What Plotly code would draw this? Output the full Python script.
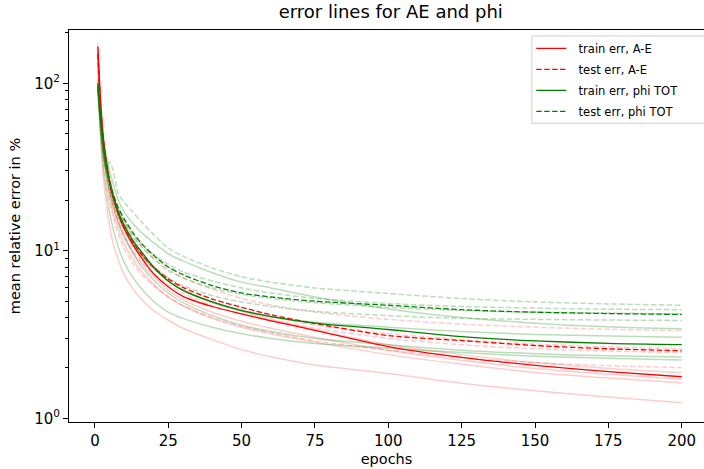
import plotly.graph_objects as go

EPOCHS = [1, 2, 3, 4, 5, 6, 8, 10, 13, 16, 20, 25, 30, 40, 50, 60, 75, 100, 125, 150, 175, 200]

# mean curves
TRAIN_AE_MEAN = [165, 75, 45, 33, 26, 21.5, 16.5, 13.5, 10.8, 9.0, 7.3, 6.1, 5.35, 4.65, 4.2, 3.82, 3.35, 2.68, 2.31, 2.07, 1.9, 1.77]
TEST_AE_MEAN = [150, 70, 43, 32, 25.5, 21.5, 16.5, 13.8, 11.2, 9.5, 8.0, 6.8, 6.05, 5.15, 4.6, 4.15, 3.68, 3.12, 2.91, 2.72, 2.6, 2.53]
TRAIN_PHI_MEAN = [100, 62, 42, 32, 26, 22, 17, 14.2, 11.5, 9.8, 8.0, 6.6, 5.8, 4.95, 4.4, 4.05, 3.7, 3.39, 3.07, 2.9, 2.8, 2.75]
TEST_PHI_MEAN = [95, 58, 40, 31, 26, 22.5, 18, 15.5, 12.8, 11, 9.4, 8.0, 7.2, 6.2, 5.6, 5.3, 5.0, 4.73, 4.45, 4.3, 4.22, 4.17]

# individual runs (faint)
TRAIN_AE_RUNS = [
    [175, 78, 46, 34, 27, 22, 17, 14, 11.2, 9.4, 7.9, 6.6, 5.85, 4.95, 4.35, 3.9, 3.38, 2.75, 2.4, 2.15, 1.98, 1.87],
    [160, 68, 40, 30, 24, 19.5, 15, 12.3, 9.8, 8.3, 7.0, 5.8, 5.1, 4.3, 3.8, 3.45, 3.05, 2.55, 2.22, 1.98, 1.83, 1.71],
    [145, 60, 36, 27, 21, 17.5, 13.5, 11, 8.9, 7.5, 6.3, 5.3, 4.7, 3.95, 3.5, 3.2, 2.85, 2.4, 2.1, 1.88, 1.74, 1.63],
    [130, 45, 26, 18.5, 14, 11.5, 8.8, 7.2, 5.9, 5.1, 4.4, 3.85, 3.45, 2.95, 2.57, 2.33, 2.08, 1.85, 1.62, 1.46, 1.34, 1.24],
]
TEST_AE_RUNS = [
    [165, 75, 46, 35, 28, 23.5, 18, 15, 12.3, 10.6, 9.0, 7.8, 6.9, 5.9, 5.2, 4.75, 4.3, 3.9, 3.65, 3.5, 3.4, 3.34],
    [150, 68, 42, 31, 25, 21, 16, 13.3, 10.8, 9.2, 7.8, 6.7, 5.9, 4.95, 4.45, 4.05, 3.6, 3.2, 2.95, 2.78, 2.67, 2.6],
    [140, 62, 38, 28.5, 23, 19.5, 15, 12.4, 10, 8.6, 7.3, 6.3, 5.6, 4.7, 4.2, 3.85, 3.45, 3.0, 2.75, 2.6, 2.52, 2.47],
    [135, 55, 33, 25, 20, 16.5, 12.5, 10.3, 8.4, 7.2, 6.2, 5.3, 4.7, 4.0, 3.55, 3.25, 2.9, 2.55, 2.3, 2.15, 2.06, 2.01],
]
TRAIN_PHI_RUNS = [
    [100, 60, 44, 36, 30, 26, 20, 17, 14.5, 12.8, 11.2, 9.6, 8.7, 7.4, 6.5, 6.0, 5.3, 4.5, 4.0, 3.7, 3.52, 3.42],
    [105, 62, 42, 32, 26, 22, 17, 14, 11.2, 9.4, 7.9, 6.6, 5.8, 4.9, 4.4, 4.05, 3.75, 3.5, 3.3, 3.17, 3.1, 3.05],
    [95, 55, 37, 28, 22.5, 19, 14.5, 12, 9.6, 8.0, 6.7, 5.6, 4.9, 4.1, 3.6, 3.3, 3.0, 2.75, 2.55, 2.43, 2.36, 2.32],
    [90, 48, 30, 22, 17, 14, 10.5, 8.5, 6.9, 5.9, 5.0, 4.3, 3.95, 3.5, 3.2, 3.0, 2.8, 2.62, 2.47, 2.35, 2.28, 2.23],
]
TEST_PHI_RUNS = [
    [90, 50, 36, 30, 34, 31, 22, 19.5, 17, 14.8, 12.5, 10.4, 9.3, 7.9, 7.0, 6.5, 6.0, 5.56, 5.19, 4.95, 4.82, 4.73],
    [98, 58, 40, 31, 25.5, 22, 17.5, 15, 12.5, 10.9, 9.5, 8.3, 7.5, 6.6, 6.0, 5.6, 5.2, 4.85, 4.65, 4.55, 4.48, 4.45],
    [92, 54, 37, 29, 24, 20.5, 16, 13.5, 11, 9.4, 8.0, 6.9, 6.2, 5.4, 4.95, 4.65, 4.35, 4.1, 3.95, 3.9, 3.86, 3.84],
    [96, 56, 38, 30, 25, 21.5, 17, 14.5, 12, 10.5, 9, 7.6, 6.9, 6.0, 5.5, 5.2, 4.9, 4.6, 4.4, 4.3, 4.25, 4.2],
]

LEGEND_LABELS = ["train err, A-E", "test err, A-E", "train err, phi TOT", "test err, phi TOT"]
X_TICKS = [0, 25, 50, 75, 100, 125, 150, 175, 200]
Y_TICKVALS = [1, 10, 100]
Y_TICKTEXT = ["10<sup>0</sup>", "10<sup>1</sup>", "10<sup>2</sup>"]
Y_MINOR = [2, 3, 4, 5, 6, 7, 8, 9, 20, 30, 40, 50, 60, 70, 80, 90, 200]

RED = "#ff0000"
GREEN = "#008000"
FAINT_RED = "rgba(255,0,0,0.2)"
FAINT_GREEN = "rgba(0,128,0,0.27)"
DASH = "5.5px,2.4px"

fig = go.Figure()

def add_runs(runs, color, dash):
    for r in runs:
        fig.add_trace(go.Scatter(x=EPOCHS, y=r, mode="lines", showlegend=False, hoverinfo="skip",
                                 line=dict(color=color, width=1.5, dash=dash, shape="spline", smoothing=0.8)))

add_runs(TRAIN_AE_RUNS, FAINT_RED, "solid")
add_runs(TEST_AE_RUNS, FAINT_RED, DASH)
add_runs(TRAIN_PHI_RUNS, FAINT_GREEN, "solid")
add_runs(TEST_PHI_RUNS, FAINT_GREEN, DASH)

means = [(TRAIN_AE_MEAN, RED, "solid"), (TEST_AE_MEAN, RED, DASH),
         (TRAIN_PHI_MEAN, GREEN, "solid"), (TEST_PHI_MEAN, GREEN, DASH)]
for i, (m, c, d) in enumerate(means):
    fig.add_trace(go.Scatter(x=EPOCHS, y=m, mode="lines", name="\u00a0\u00a0" + LEGEND_LABELS[i],
                             legendgroup=f"g{i}",
                             line=dict(color=c, width=1.3, dash=d, shape="spline", smoothing=0.8)))

FONT = "DejaVu Sans"
fig.update_layout(
    width=704, height=469,
    margin=dict(l=69, r=0, t=30, b=47),
    paper_bgcolor="white", plot_bgcolor="white",
    font=dict(family=FONT, size=14, color="#000000"),
    title=dict(text="error lines for AE and phi", x=0.555, xanchor="center", y=0.974, yanchor="middle",
               font=dict(family=FONT, size=18, color="#000000")),
    legend=dict(x=0.728, y=0.99, xanchor="left", yanchor="top", bgcolor="rgba(0,0,0,0)",
                borderwidth=0, font=dict(family=FONT, size=11.5),
                traceorder="grouped", tracegroupgap=2),
    shapes=[dict(type="rect", xref="paper", yref="paper", x0=0.729, x1=1.03, y0=0.762, y1=0.985,
                 line=dict(color="#d0d0d0", width=1), fillcolor="white", layer="above")],
    xaxis=dict(range=[-8.83, 207.6], tickvals=X_TICKS, showgrid=False, zeroline=False,
               showline=True, linecolor="#000000", linewidth=1, mirror=True,
               ticks="outside", ticklen=5, tickcolor="#000000", tickfont=dict(size=15),
               title=dict(text="epochs", standoff=4, font=dict(size=14.5))),
    yaxis=dict(type="log", range=[-0.022, 2.318], tickvals=Y_TICKVALS, ticktext=Y_TICKTEXT,
               showgrid=False, zeroline=False, showline=True, linecolor="#000000", linewidth=1,
               ticks="outside", ticklen=5, tickcolor="#000000", tickfont=dict(size=15),
               minor=dict(tickvals=Y_MINOR, ticks="outside", ticklen=3, tickcolor="#000000", showgrid=False),
               title=dict(text="mean relative error in %", standoff=10, font=dict(size=14.5))),
)

fig.write_html("out.html", config={"displayModeBar": False},
               post_script="document.body.style.margin='0';")
